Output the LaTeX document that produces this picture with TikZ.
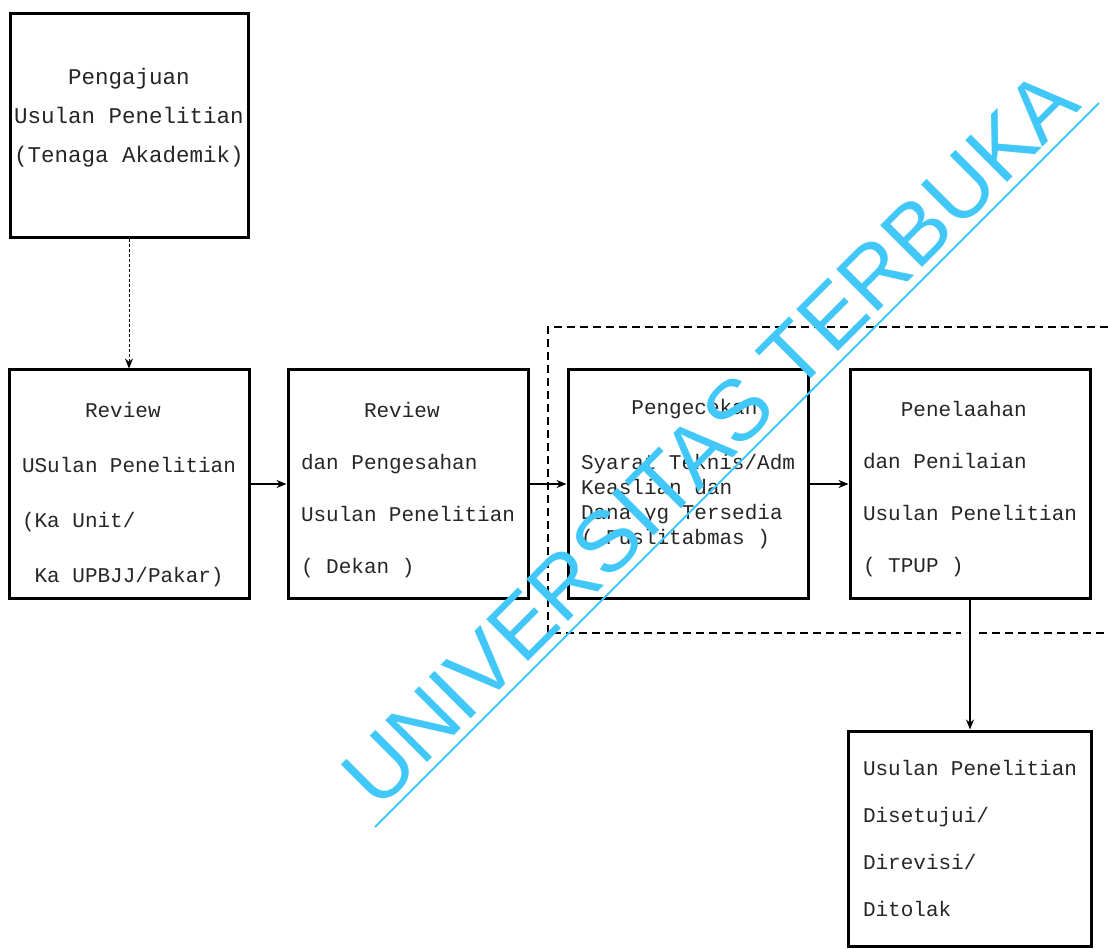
\documentclass[tikz,border=0pt]{standalone}
\usepackage{fontspec}
\newfontfamily\dotfont{Liberation Mono}
\newfontfamily\wmfont{Liberation Sans}
\usetikzlibrary{arrows,arrows.meta,positioning,calc}
\definecolor{wmblue}{RGB}{66,200,248}
\newcommand{\topgap}[1]{\rule{0pt}{#1}}

\tikzset{
  procbox/.style={draw, line width=3pt, minimum width=240pt, minimum height=228pt,
    text width=214pt, inner xsep=13pt, inner ysep=0pt, align=flush left, text=black!85,
    font=\dotfont\fontsize{21}{52}\selectfont},
  flow/.style={-{Stealth[length=10pt,width=8pt]}, line width=1.5pt},
  frame/.style={line width=2pt, dash pattern=on 8pt off 5pt},
  wmark/.style={text=wmblue, inner sep=0pt, font=\wmfont\fontsize{86}{86}\selectfont},
}

\begin{document}
\begin{tikzpicture}[>=stealth',x=1pt,y=-1pt]
    \useasboundingbox (0,0) rectangle (1108,949);

    \node [procbox, minimum width=238pt, minimum height=224pt, text width=232pt, inner xsep=3pt,
      align=flush center, font=\dotfont\fontsize{22.5}{39}\selectfont] (pengajuan) at (129,126)
      {Pengajuan\\Usulan Penelitian\\(Tenaga Akademik)\rule[-22pt]{0pt}{1pt}};

    \node [procbox, minimum width=238pt, font=\dotfont\fontsize{21}{55}\selectfont] (reviewUnit) at (129,484)
      {\topgap{37pt}\hspace*{3em}Review\\USulan Penelitian\\(Ka Unit/\\\hspace*{0.6em}Ka UPBJJ/Pakar)};
    \node [procbox] (reviewDekan) at (408,484)
      {\topgap{27pt}\hspace*{3em}Review\\dan Pengesahan\\Usulan Penelitian\\( Dekan )};
    \node [procbox, font=\dotfont\fontsize{21}{25}\selectfont] (pengecekan) at (688,484)
      {\hspace*{2.4em}Pengecekan\\[30pt]Syarat Teknis/Adm\\Keaslian dan\\Dana yg Tersedia\\( Puslitabmas )\\\mbox{}};
    \node [procbox] (penelaahan) at (970,484)
      {\topgap{26pt}\hspace*{1.8em}Penelaahan\\dan Penilaian\\Usulan Penelitian\\( TPUP )};
    \node [procbox, minimum width=243pt, minimum height=215pt,
      font=\dotfont\fontsize{21}{47}\selectfont, below=130pt of penelaahan] (hasil)
      {Usulan Penelitian\\Disetujui/\\Direvisi/\\Ditolak};

    % kotak putus-putus
    \draw[frame] (1108,327) -- (548,327) -- (548,633) -- (961,633);
    \draw[frame] (979,633) -- (1108,633);

    \draw[flow, line width=1pt, densely dashed] (pengajuan.south) -- (reviewUnit.north);
    \draw[flow] (reviewUnit.east) -- (reviewDekan.west);
    \draw[flow] (reviewDekan.east) -- (pengecekan.west);
    \draw[flow] (pengecekan.east) -- (penelaahan.west);
    \draw[flow] (penelaahan.south) -- (penelaahan.south |- hasil.north);

    % watermark
    \node [wmark, rotate=45, anchor=base west] (wmText) at (378,812) {UNIVERSITAS TERBUKA};
    \draw[wmblue, line width=1.8pt] (375,827) -- (1099,103);
\end{tikzpicture}
\end{document}
